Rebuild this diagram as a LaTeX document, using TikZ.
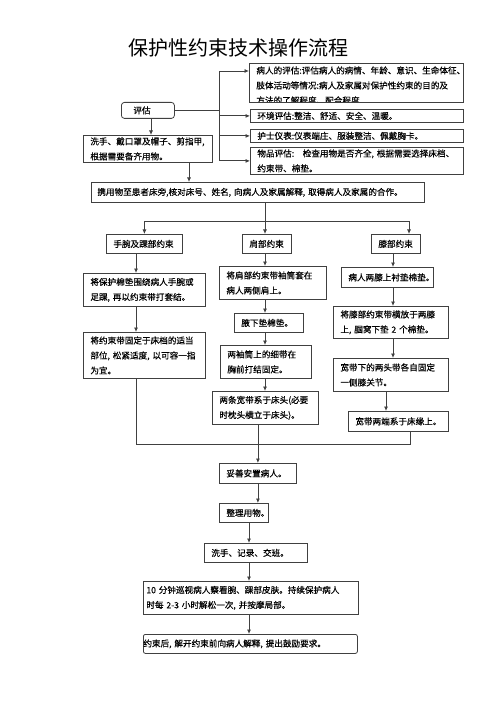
\documentclass[tikz,border=0pt]{standalone}
\usepackage{fontspec}
\newfontfamily\cjk[FakeBold=0.4]{Noto Sans CJK SC}
\newfontfamily\cjktitle{Noto Sans CJK SC}
\usetikzlibrary{arrows.meta}
\tikzset{
  bx/.style={draw=black!75, line width=0.8pt, anchor=north west, align=left,
    inner xsep=7pt, inner ysep=0pt, font=\cjk\fontsize{8.6}{15}\selectfont},
  ln/.style={draw=black!75, line width=0.8pt},
  arr/.style={ln, -{Latex[length=4.5pt,width=4pt]}}
}
\begin{document}
\begin{tikzpicture}[x=1pt,y=-1pt]
\useasboundingbox[fill=white] (0,0) rectangle (500,708);
\node[font=\cjktitle\fontsize{20}{24}\selectfont] (title) at (238,48) {保护性约束技术操作流程};
% assessment
\node[bx, inner xsep=12pt, rounded corners=3pt, minimum width=53, minimum height=16, text width=29] (pg) at (121,102) {评估};
\node[bx, minimum width=214, minimum height=39] (b1) at (249,63) {};
\begin{scope}
\clip (249,63) rectangle (463,102);
\node[bx, draw=none, text width=200, anchor=north west] (b1t) at (249,66) {病人的评估:评估病人的病情、年龄、意识、生命体征、\\肢体活动等情况:病人及家属对保护性约束的目的及\\方法的了解程度、配合程度};
\end{scope}
\node[bx, minimum width=213, minimum height=13, text width=199] (b2) at (250,109) {环境评估:整洁、舒适、安全、温暖。};
\node[bx, minimum width=213, minimum height=13, text width=199] (b3) at (250,129) {护士仪表:仪表端庄、服装整洁、佩戴胸卡。};
\node[bx, minimum width=213, minimum height=27, text width=199] (b4) at (250,147) {物品评估:\quad 检查用物是否齐全, 根据需要选择床档、\\约束带、棉垫。};
\node[bx, minimum width=129, minimum height=27, text width=115] (wash) at (83,135) {洗手、戴口罩及帽子、剪指甲,\\根据需要备齐用物。};
\node[bx, inner xsep=6pt, minimum width=333, minimum height=20, text width=321] (carry) at (91,182) {携用物至患者床旁,核对床号、姓名, 向病人及家属解释, 取得病人及家属的合作。};
% three kinds
\node[bx, minimum width=76, minimum height=19, text width=62] (wr) at (106,234) {手腕及踝部约束};
\node[bx, minimum width=49, minimum height=19, text width=35] (sh) at (242,234) {肩部约束};
\node[bx, minimum width=49, minimum height=19, text width=35] (kn) at (371,234) {膝部约束};
\node[bx, minimum width=122, minimum height=33, text width=108] (wr1) at (83,273) {将保护棉垫围绕病人手腕或\\足踝, 再以约束带打套结。};
\node[bx, minimum width=122, minimum height=46, text width=108] (wr2) at (83,332) {将约束带固定于床档的适当\\部位, 松紧适度, 以可容一指\\为宜。};
\node[bx, minimum width=107, minimum height=33, text width=93] (sh1) at (219,266) {将肩部约束带袖筒套在\\病人两侧肩上。};
\node[bx, minimum width=69, minimum height=19, text width=55] (sh2) at (234,313) {腋下垫棉垫。};
\node[bx, minimum width=91, minimum height=33, text width=77] (sh3) at (220,345) {两袖筒上的细带在\\胸前打结固定。};
\node[bx, minimum width=106, minimum height=33, text width=92] (sh4) at (212,391) {两条宽带系于床头(必要\\时枕头横立于床头)。};
\node[bx, minimum width=92, minimum height=20, text width=78] (kn1) at (341,267) {病人两膝上衬垫棉垫。};
\node[bx, minimum width=115, minimum height=32, text width=101] (kn2) at (333,306) {将膝部约束带横放于两膝\\上, 腘窝下垫 2 个棉垫。};
\node[bx, minimum width=115, minimum height=33, text width=101] (kn3) at (333,358) {宽带下的两头带各自固定\\一侧膝关节。};
\node[bx, minimum width=100, minimum height=20, text width=86] (kn4) at (348,411) {宽带两端系于床缘上。};
% after
\node[bx, minimum width=77, minimum height=20, text width=63] (s1) at (219,463) {妥善安置病人。};
\node[bx, minimum width=49, minimum height=19, text width=35] (s2) at (219,503) {整理用物。};
\node[bx, minimum width=103, minimum height=19, text width=89] (s3) at (204,543) {洗手、记录、交班。};
\node[bx, inner xsep=3pt, minimum width=215, minimum height=33, text width=209] (s4) at (143,581) {10 分钟巡视病人察看腕、踝部皮肤。持续保护病人\\时每 2-3 小时解松一次, 并按摩局部。};
\node[bx, inner xsep=0pt, rounded corners=2pt, minimum width=214, minimum height=19, text width=214] (s5) at (143,634) {约束后, 解开约束前向病人解释, 提出鼓励要求。};
% rails
\coordinate (fork) at (219,0);
\coordinate (c1) at (151,0);
\coordinate (c2) at (189,0);
\coordinate (c3) at (265,0);
\coordinate (c4) at (409,0);
\coordinate (ca) at (136,0);
\coordinate (cb) at (393,0);
\coordinate (cc) at (386,0);
\coordinate (cr) at (410,0);
\coordinate (cs) at (249,0);
% connectors
\draw[ln] (pg.east) -- (pg.east -| fork);
\draw[arr] (pg.east -| fork) |- ([yshift=-8pt]b1.north west);
\foreach \b in {b2,b3,b4} \draw[arr] (pg.east -| fork) |- (\b.west);
\draw[arr] (pg.south -| c1) -- (wash.north -| c1);
\draw[arr] (wash.south -| c2) -- (carry.north -| c2);
\draw[ln] (carry.south -| c3) -- ++(0,19) coordinate (split);
\draw[arr] (split) -| (wr.north);
\draw[arr] (split) -- (sh.north -| split);
\draw[arr] (split) -| (kn.north -| c4);
\draw[arr] (wr.south -| ca) -- (wr1.north -| ca);
\draw[arr] (wr1.south -| ca) -- (wr2.north -| ca);
\draw[arr] (sh.south -| c3) -- (sh1.north -| c3);
\draw[arr] (sh1.south -| c3) -- (sh2.north -| c3);
\draw[arr] (sh2.south -| c3) -- (sh3.north -| c3);
\draw[arr] (sh3.south -| c3) -- (sh4.north -| c3);
\draw[arr] (kn.south -| cb) -- (kn1.north -| cb);
\draw[arr] (kn1.south -| cb) -- (kn2.north -| cb);
\draw[arr] (kn2.south -| cb) -- (kn3.north -| cb);
\draw[arr] (kn3.south -| cc) -- (kn4.north -| cc);
\draw[ln] (wr2.south -| ca) -- ++(0,66) -| (kn4.south -| cr);
\draw[arr] (sh4.south -| s1.north) -- (s1.north);
\draw[arr] (s1.south) -- (s1.south |- s2.north);
\draw[arr] (s2.south -| cs) -- (s3.north -| cs);
\draw[arr] (s3.south -| cs) -- (s4.north -| cs);
\draw[arr] (s4.south -| cs) -- (s5.north -| cs);
\end{tikzpicture}
\end{document}
